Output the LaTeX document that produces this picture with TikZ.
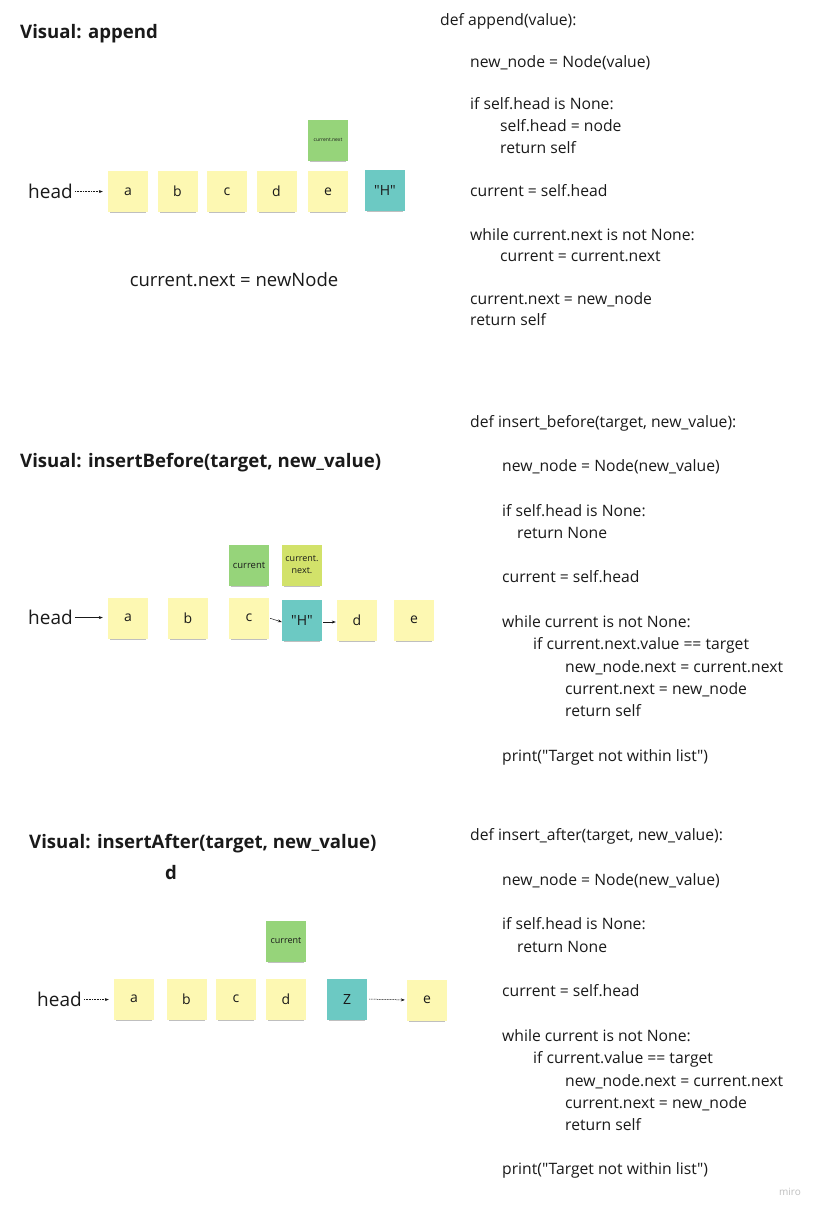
\documentclass[tikz,border=0pt]{standalone}
\usepackage{fontspec}
\setmainfont{Open Sans}[Ligatures=TeXOff]
\usetikzlibrary{arrows.meta,shadows}
\definecolor{sticky}{HTML}{FDF8B2}
\definecolor{teal1}{HTML}{6CC9C3}
\definecolor{green1}{HTML}{96D47A}
\definecolor{lime1}{HTML}{D2E26A}
\definecolor{ink}{HTML}{1A1A1A}
\tikzset{
  note/.style={minimum width=40pt, minimum height=41pt, inner sep=0pt, fill=sticky,
    text=ink, font=\fontsize{14}{14}\selectfont,
    drop shadow={shadow xshift=0pt, shadow yshift=-3.5pt, shadow scale=0.9, opacity=0.25, fill=black}},
  tealnote/.style={note, fill=teal1},
  greennote/.style={note, fill=green1},
  limenote/.style={note, fill=lime1},
  headlbl/.style={font=\fontsize{19}{19}\selectfont, text=ink, inner sep=0pt, anchor=mid west, yshift=-4pt},
  title/.style={font=\fontsize{18.6}{18.6}\selectfont\bfseries, text=ink, inner sep=0pt, anchor=mid west, yshift=-4pt},
  code/.style={font=\fontsize{15.7}{15.7}\selectfont, text=ink, inner sep=0pt, anchor=mid west, yshift=-4pt},
  arr/.style={-{Stealth[length=4pt,width=3pt]}, line width=0.5pt, draw=ink},
  dotarr/.style={arr, dash pattern=on 1pt off 0.6pt},
}
\begin{document}
\begin{tikzpicture}[x=1pt,y=-1pt]
\path[fill=white, use as bounding box] (0,0) rectangle (822,1215);

% ---------- Section 1: append ----------
\node[title] (t1) at (20,32) {Visual: append};
\node[headlbl] (h1) at (28,192) {head};
\node[note] (a1) at (128,191.5) {a};
\node[note] (b1) at (177.5,191.5) {b};
\node[note] (c1) at (227,191.5) {c};
\node[note] (d1) at (276.5,191.5) {d};
\node[note] (e1) at (328,191.5) {e};
\node[tealnote] (H1) at (385,190.5) {"H"};
\node[greennote, font=\fontsize{5}{5}\selectfont] (cn1) at (328,140) {current.next};
\draw[dotarr, shorten <=2pt, shorten >=5pt] (h1.east) -- (a1.west |- h1.east);
\node[font=\fontsize{18.5}{18.5}\selectfont, text=ink, inner sep=0pt] (cap1) at (234,280) {current.next = newNode};

% ---------- Section 2: insertBefore ----------
\node[title] (t2) at (20,461) {Visual: insertBefore(target, new\_value)};
\node[headlbl] (h2) at (28,618) {head};
\node[note] (a2) at (128,618) {a};
\node[note] (b2) at (188,618) {b};
\node[note] (c2) at (249,618) {c};
\node[tealnote] (H2) at (302,620) {"H"};
\node[note] (d2) at (357,620) {d};
\node[note] (e2) at (414,620) {e};
\node[greennote, font=\fontsize{9.5}{9.5}\selectfont] (cur2) at (249,565) {current};
\node[limenote, font=\fontsize{9}{12}\selectfont, align=center] (cn2) at (302,565) {current.\\next.};
\draw[arr, shorten <=2pt, shorten >=5pt] (h2.east) -- (a2.west |- h2.east);
\draw[arr, shorten <=1pt] ([yshift=0pt]c2.east) -- ([yshift=-2pt]H2.west);
\draw[arr, shorten <=1pt, shorten >=1pt] ([yshift=-2pt]H2.east) -- ([yshift=-2pt]d2.west);

% ---------- Section 3: insertAfter ----------
\node[title] (t3) at (29,842) {Visual: insertAfter(target, new\_value)};
\node[title] (t3d) at (165,873) {d};
\node[headlbl] (h3) at (37,1000) {head};
\node[note] (a3) at (134,999) {a};
\node[note] (b3) at (186.5,999) {b};
\node[note] (c3) at (236,999) {c};
\node[note] (d3) at (286,999) {d};
\node[tealnote] (Z3) at (347,999) {Z};
\node[note] (e3) at (427,1000) {e};
\node[greennote, font=\fontsize{9}{9}\selectfont] (cur3) at (286,941) {current};
\draw[dotarr, shorten <=2pt, shorten >=5pt] (h3.east) -- (a3.west |- h3.east);
\draw[dotarr, shorten <=2pt, shorten >=2pt] (Z3.east) -- (e3.west);

% ---------- Code 1 ----------
\foreach \x/\y/\t [count=\i] in {
  440/19/{def append(value):},
  470/61/{new\_node = Node(value)},
  470/103/{if self.head is None:},
  500/125/{self.head = node},
  500/147/{return self},
  470/190/{current = self.head},
  470/234/{while current.next is not None:},
  500/255/{current = current.next},
  470/298/{current.next = new\_node},
  470/319/{return self}}
  \node[code] (ca\i) at (\x,\y) {\t};

% ---------- Code 2 ----------
\foreach \x/\y/\t [count=\i] in {
  470/421/{def insert\_before(target, new\_value):},
  502/465/{new\_node = Node(new\_value)},
  502/510/{if self.head is None:},
  517/532/{return None},
  502/576/{current = self.head},
  502/621/{while current is not None:},
  533/643/{if current.next.value == target},
  565/666/{new\_node.next = current.next},
  565/688/{current.next = new\_node},
  565/710/{return self},
  502/755/{print("Target not within list")}}
  \node[code] (cb\i) at (\x,\y) {\t};

% ---------- Code 3 ----------
\foreach \x/\y/\t [count=\i] in {
  470/834/{def insert\_after(target, new\_value):},
  502/879/{new\_node = Node(new\_value)},
  502/923/{if self.head is None:},
  517/946/{return None},
  502/990/{current = self.head},
  502/1035/{while current is not None:},
  533/1057/{if current.value == target},
  565/1080/{new\_node.next = current.next},
  565/1102/{current.next = new\_node},
  565/1124/{return self},
  502/1168/{print("Target not within list")}}
  \node[code] (cc\i) at (\x,\y) {\t};

\node[font=\fontsize{10}{10}\selectfont, text=black!25, inner sep=0pt] (miro) at (790,1192) {miro};
\end{tikzpicture}
\end{document}
